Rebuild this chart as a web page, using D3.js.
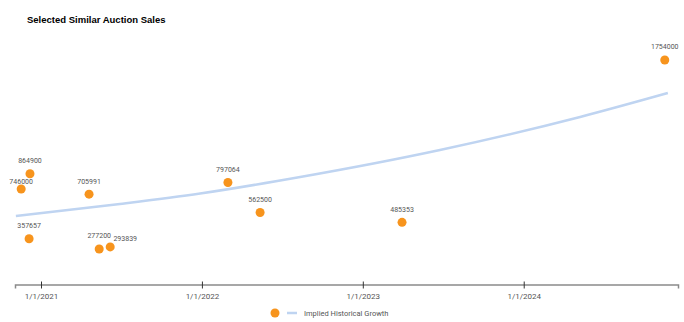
<!DOCTYPE html>
<html>
<head>
<meta charset="utf-8">
<script src="https://cdn.jsdelivr.net/npm/d3@7"></script>
<style>
  body { margin: 0; background: #fff; }
</style>
</head>
<body>
<script>
// sale dates and prices
var saleDates = ["2020-11-17", "2020-12-07", "2020-12-05", "2021-04-20", "2021-05-13",
                 "2021-06-07", "2022-03-01", "2022-05-13", "2023-03-31", "2024-11-16"];
var salePrices = [746000, 864900, 357657, 705991, 277200, 293839, 797064, 562500, 485353, 1754000];

// implied growth curve, read at a few dates
var growthDates = ["2020-11-05", "2021-06-29", "2021-12-28", "2022-08-12", "2023-06-25", "2024-05-08", "2024-11-23"];
var growthValues = [535000, 629000, 711000, 840000, 1051000, 1309000, 1496000];

var tickDates = ["2021-01-01", "2022-01-01", "2023-01-01", "2024-01-01"];
var tickLabels = ["1/1/2021", "1/1/2022", "1/1/2023", "1/1/2024"];

var svgWidth = 684;
var svgHeight = 322;
var parse = d3.timeParse("%Y-%m-%d");

var svg = d3.select("body").append("svg")
  .attr("width", svgWidth)
  .attr("height", svgHeight);

// x: 2021-01-01 sits at 41px, ~161px per year
var xScale = d3.scaleTime()
  .domain([parse("2020-11-03"), parse("2024-12-16")])
  .range([15, 678]);

var yScale = d3.scaleLinear()
  .domain([0, 2000000])
  .range([284.5, 28.5]);

// title
svg.append("text")
  .attr("x", 27)
  .attr("y", 23)
  .attr("font-family", "Liberation Sans, Arial, sans-serif")
  .attr("font-weight", "bold")
  .attr("font-size", "9.5px")
  .attr("fill", "#000")
  .text("Selected Similar Auction Sales");

// x axis
var xAxis = d3.axisBottom(xScale)
  .tickValues(tickDates.map(parse))
  .tickFormat(function(d, i) { return tickLabels[i]; })
  .tickSize(4)
  .tickPadding(5);

var axisG = svg.append("g")
  .attr("transform", "translate(0," + yScale(0) + ")")
  .call(xAxis);
axisG.select(".domain")
  .attr("stroke", "#8a8a8a")
  .attr("stroke-width", 1.5);
axisG.selectAll(".tick line")
  .attr("y1", -3)
  .attr("y2", 4)
  .attr("stroke", "#333");
axisG.selectAll(".tick text")
  .attr("font-family", "Roboto, sans-serif")
  .attr("font-size", "8px")
  .attr("fill", "#555");

// growth curve
var growth = growthDates.map(function(d, i) { return { date: parse(d), value: growthValues[i] }; });
var line = d3.line()
  .x(function(d) { return xScale(d.date); })
  .y(function(d) { return yScale(d.value); })
  .curve(d3.curveMonotoneX);

svg.append("path")
  .datum(growth)
  .attr("d", line)
  .attr("fill", "none")
  .attr("stroke", "#bfd4f1")
  .attr("stroke-width", 2.5);

// sales points
var sales = saleDates.map(function(d, i) { return { date: parse(d), price: salePrices[i] }; });
var orange = "#f7941d";

svg.selectAll("circle.sale")
  .data(sales)
  .enter()
  .append("circle")
  .attr("class", "sale")
  .attr("cx", function(d) { return xScale(d.date); })
  .attr("cy", function(d) { return yScale(d.price); })
  .attr("r", 4.5)
  .attr("fill", orange);

// labels, nudged when they would sit on another point or label
var placed = [];
var nudges = [[0, -13], [0, -7], [15, -8]];
var labelW = 23, labelH = 7;
function overlaps(box, self) {
  var hit = placed.some(function(b) {
    return box.x0 < b.x1 && box.x1 > b.x0 && box.y0 < b.y1 && box.y1 > b.y0;
  });
  if (hit) return true;
  return sales.some(function(s) {
    if (s === self) return false;
    var cx = xScale(s.date), cy = yScale(s.price);
    return box.x0 < cx + 4 && box.x1 > cx - 4 && box.y0 < cy + 3.5 && box.y1 > cy - 4;
  });
}
sales.slice().sort(function(a, b) { return a.date - b.date; }).forEach(function(d) {
  var cx = xScale(d.date), cy = yScale(d.price);
  var pos = nudges[nudges.length - 1];
  for (var i = 0; i < nudges.length; i++) {
    var bx = cx + nudges[i][0], by = cy + nudges[i][1];
    var box = { x0: bx - labelW / 2, x1: bx + labelW / 2, y0: by - labelH / 2, y1: by + labelH / 2 };
    if (!overlaps(box, d)) { pos = nudges[i]; break; }
  }
  var lx = cx + pos[0], ly = cy + pos[1];
  placed.push({ x0: lx - labelW / 2, x1: lx + labelW / 2, y0: ly - labelH / 2, y1: ly + labelH / 2 });
  svg.append("text")
    .attr("x", lx)
    .attr("y", ly)
    .attr("dy", "0.35em")
    .attr("text-anchor", "middle")
    .attr("font-family", "Roboto, sans-serif")
    .attr("font-size", "7px")
    .attr("fill", "#555")
    .text(d.price);
});

// legend
var legend = svg.append("g").attr("transform", "translate(275,313)");
legend.append("circle")
  .attr("r", 4.5)
  .attr("fill", orange);
legend.append("line")
  .attr("x1", 12).attr("x2", 22)
  .attr("stroke", "#bfd4f1")
  .attr("stroke-width", 2.5);
legend.append("text")
  .attr("x", 29)
  .attr("dy", "0.35em")
  .attr("font-family", "Roboto, sans-serif")
  .attr("font-size", "7.5px")
  .attr("fill", "#555")
  .text("Implied Historical Growth");
</script>
</body>
</html>
